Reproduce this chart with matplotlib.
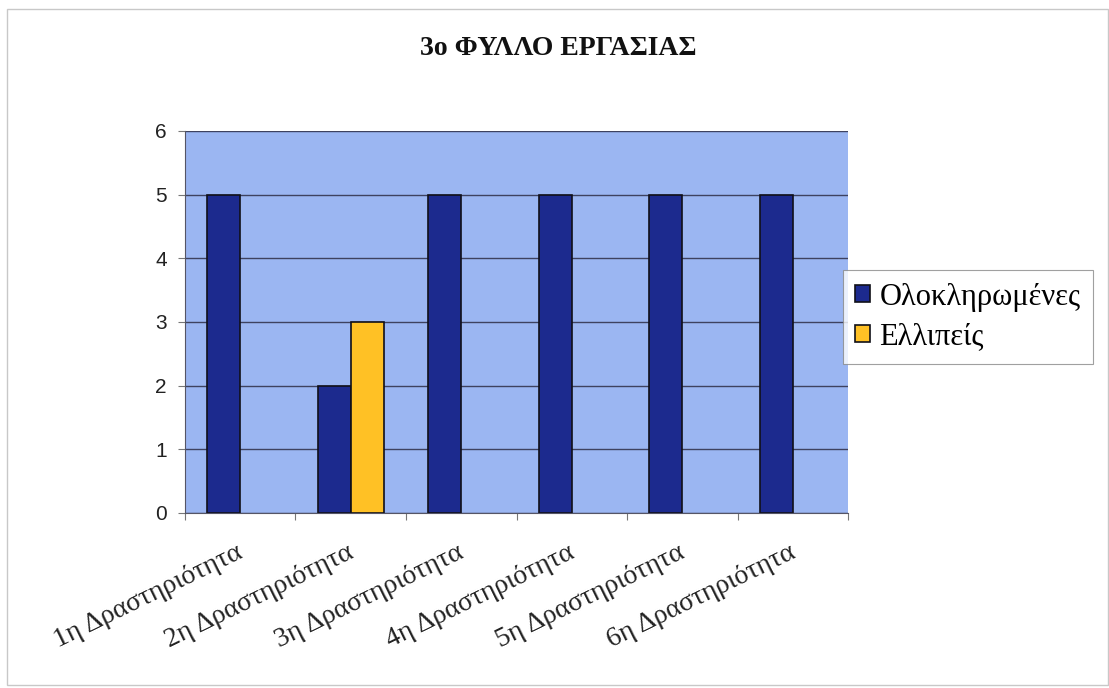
import matplotlib.pyplot as plt
import numpy as np
from matplotlib.patches import Rectangle

categories = ["1η Δραστηριότητα", "2η Δραστηριότητα", "3η Δραστηριότητα",
              "4η Δραστηριότητα", "5η Δραστηριότητα", "6η Δραστηριότητα"]
completed = [5, 2, 5, 5, 5, 5]
incomplete = [0, 3, 0, 0, 0, 0]
series_names = ["Ολοκληρωμένες", "Ελλιπείς"]
title = "3ο ΦΥΛΛΟ ΕΡΓΑΣΙΑΣ"

navy = "#1C2A8E"
gold = "#FFC125"
plot_bg = "#9BB6F2"

fig = plt.figure(figsize=(11.09, 6.88), dpi=100)
ax = fig.add_axes([0.1668, 0.2544, 0.5979, 0.5552])
ax.set_facecolor(plot_bg)

x = np.arange(len(categories))
w = 0.3


def edge_widths(vals):
    return [1.2 if v > 0 else 0 for v in vals]


ax.bar(x - w / 2, completed, w, color=navy, edgecolor="#101018",
       linewidth=edge_widths(completed), label=series_names[0], zorder=3)
ax.bar(x + w / 2, incomplete, w, color=gold, edgecolor="#101018",
       linewidth=edge_widths(incomplete), label=series_names[1], zorder=3)

ax.set_xlim(-0.5, len(categories) - 0.5)
ax.set_ylim(0, 6)
ax.set_yticks(range(0, 7))
ax.yaxis.grid(True, color="#3e4260", linewidth=1.0, zorder=1)
ax.set_axisbelow(True)

for s in ["top", "right"]:
    ax.spines[s].set_visible(False)
ax.spines["left"].set_color("#555566")
ax.spines["bottom"].set_color("#555566")
ax.spines["bottom"].set_zorder(4)

# category boundary ticks on the x axis
ax.set_xticks(np.arange(-0.5, len(categories) + 0.5, 1.0))
ax.set_xticklabels([])
ax.tick_params(axis="x", direction="out", length=5, color="#777777")
ax.tick_params(axis="y", direction="out", length=5, color="#777777",
               labelsize=15, labelcolor="#222222", pad=8)
for lbl in ax.get_yticklabels():
    lbl.set_family("Liberation Sans")

for i, c in enumerate(categories):
    ax.text(i - 0.04, -0.42, c, rotation=26, ha="right", va="top",
            rotation_mode="anchor", fontsize=20, family="Liberation Serif",
            color="#222222", transform=ax.transData, clip_on=False)

fig.text(0.503, 0.93, title, ha="center", va="center", fontsize=20,
         fontweight="bold", family="Liberation Serif", color="#111111")

leg = fig.legend(loc="upper left", bbox_to_anchor=(0.760, 0.607),
                 prop={"family": "Liberation Serif", "size": 22},
                 frameon=True, fancybox=False, edgecolor="#888888",
                 handlelength=0.5, handleheight=0.5, handletextpad=0.3,
                 borderpad=0.4, labelspacing=0.35, borderaxespad=0)
leg.get_frame().set_linewidth(0.8)
for h in leg.legend_handles:
    h.set_edgecolor("#101018")
    h.set_linewidth(1.2)

fig.patches.append(Rectangle((0.0065, 0.004), 0.9925, 0.983, transform=fig.transFigure,
                             fill=False, edgecolor="#c8c8c8", linewidth=1.0))

fig.savefig("out.png", dpi=100, facecolor="white")
